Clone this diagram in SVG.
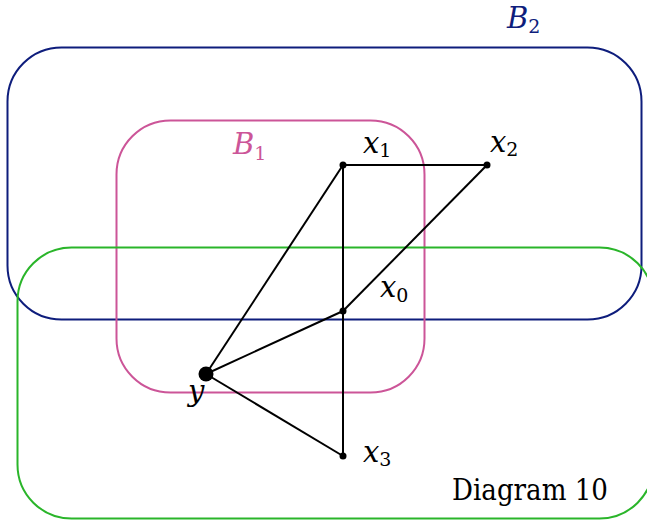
<svg xmlns="http://www.w3.org/2000/svg" width="647" height="520" viewBox="0 0 647 520">
<style>
.box{fill:none;stroke-width:2}
.b2{stroke:#0e1d7c}
.b1{stroke:#cc5598}
.gr{stroke:#2ab52a}
.edge{stroke:#000;stroke-width:2;fill:none}
text{font-family:'DejaVu Serif','Liberation Serif',serif}
.m{font-style:italic;font-size:29px}
.s{font-style:normal;font-size:19px}
.t{font-size:30px}
</style>
<rect width="647" height="520" fill="#fff"/>
<g id="B2">
<rect class="box b2" x="7.5" y="47.5" width="634" height="272" rx="54"/>
<text class="m" x="507" y="28" fill="#0e1d7c">B<tspan class="s" dy="5">2</tspan></text>
</g>
<g id="B1">
<rect class="box b1" x="116.5" y="120.5" width="308" height="272" rx="54"/>
<text class="m" x="233" y="154" fill="#cc5598">B<tspan class="s" dy="6">1</tspan></text>
</g>
<g id="B3">
<rect class="box gr" x="17.5" y="247.5" width="636" height="271" rx="54"/>
</g>
<g id="connectors">
<line class="edge" x1="343" y1="165" x2="487" y2="165"/>
<line class="edge" x1="343" y1="165" x2="343" y2="456"/>
<line class="edge" x1="343" y1="165" x2="206" y2="374"/>
<line class="edge" x1="487" y1="165" x2="343" y2="311"/>
<line class="edge" x1="343" y1="311" x2="206" y2="374"/>
<line class="edge" x1="206" y1="374" x2="343" y2="456"/>
</g>
<g id="x1">
<circle cx="343" cy="165" r="3.5"/>
<text class="m" x="363" y="153">x<tspan class="s" dy="4">1</tspan></text>
</g>
<g id="x2">
<circle cx="487" cy="165" r="3.5"/>
<text class="m" x="490" y="152">x<tspan class="s" dy="4">2</tspan></text>
</g>
<g id="x0">
<circle cx="343" cy="311" r="3.5"/>
<text class="m" x="380" y="297">x<tspan class="s" dy="5">0</tspan></text>
</g>
<g id="y">
<circle cx="206" cy="374" r="7.5"/>
<text class="m" x="188" y="401">y</text>
</g>
<g id="x3">
<circle cx="343" cy="456" r="3.5"/>
<text class="m" x="363" y="462">x<tspan class="s" dy="4">3</tspan></text>
</g>
<text class="t" x="452" y="500" textLength="156" lengthAdjust="spacingAndGlyphs">Diagram 10</text>
</svg>
